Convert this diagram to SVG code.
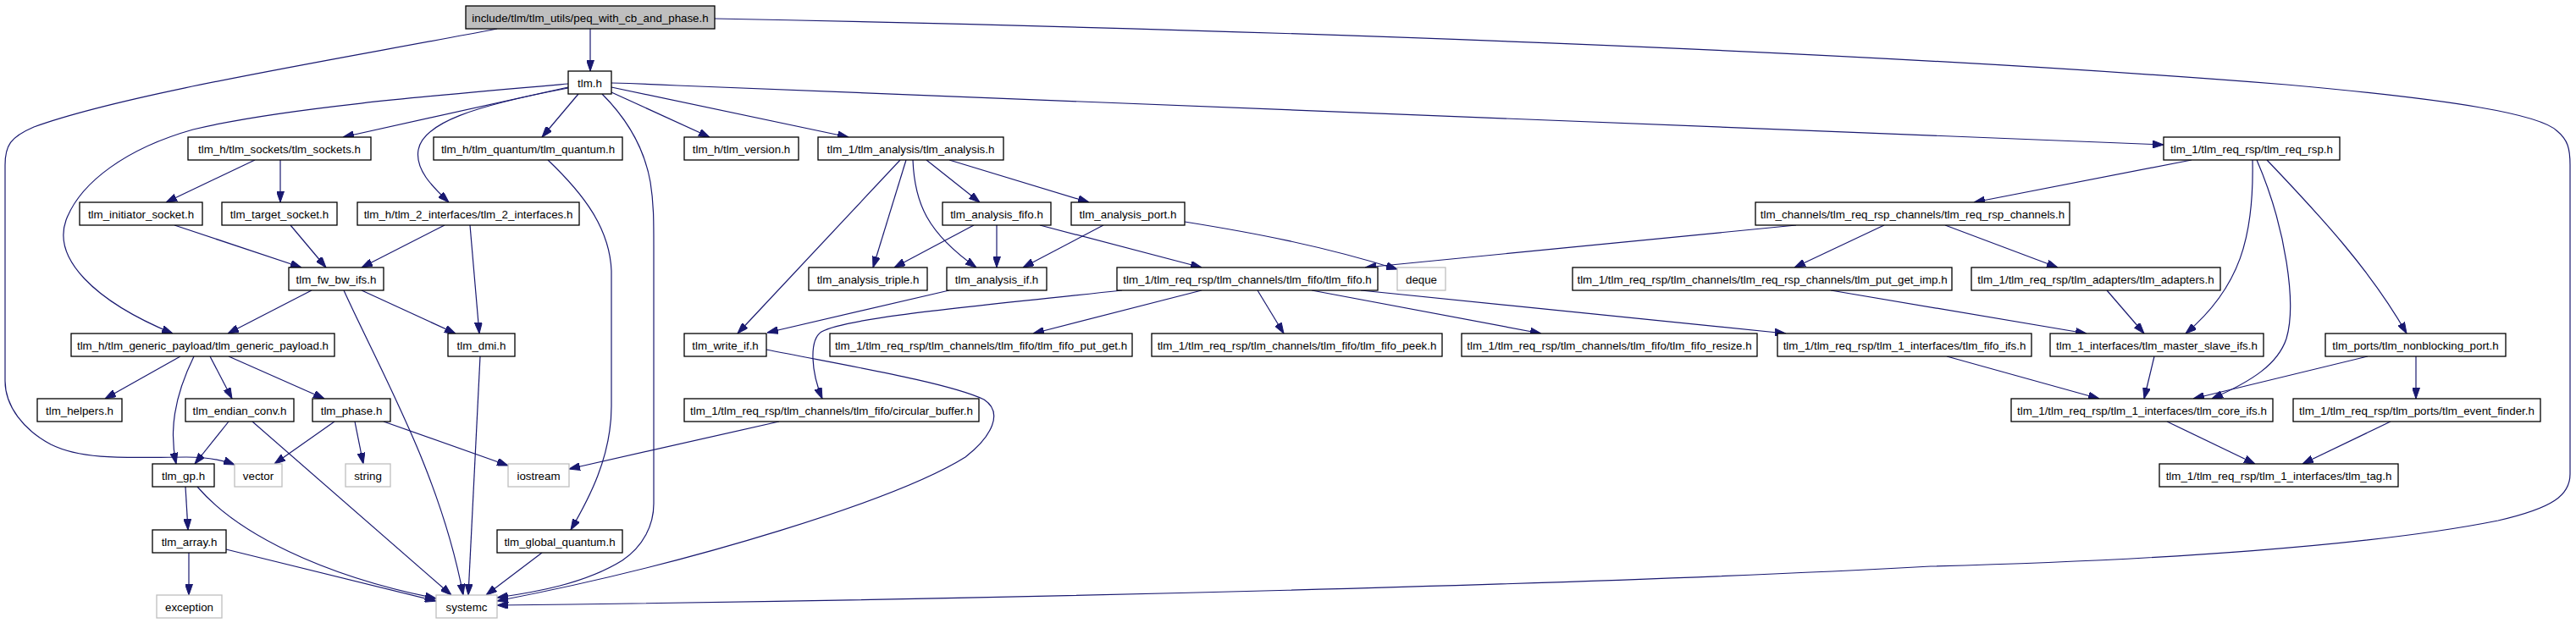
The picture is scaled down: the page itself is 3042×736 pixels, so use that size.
<svg xmlns="http://www.w3.org/2000/svg" width="3042" height="736" viewBox="0 0 3042 736">
<style>
.node rect{fill:#fff;stroke:#000;stroke-width:1.3}
.node.root rect{fill:#bfbfbf}
.node.ext rect{stroke:#bfbfbf}
.node text{font-family:"Liberation Sans",Arial,sans-serif;font-size:13.33px;text-anchor:middle;fill:#000}
.edges path{fill:none;stroke:#191970;stroke-width:1.2;marker-end:url(#ah)}
</style>
<defs>
<marker id="ah" viewBox="0 0 13 9" refX="13" refY="4.5" markerWidth="13" markerHeight="9" orient="auto" markerUnits="userSpaceOnUse"><path d="M0,0 L13,4.5 L0,9 z" fill="#191970" stroke="#191970" stroke-width="1"/></marker>
</defs>
<rect width="3042" height="736" fill="#fff"/>
<g class="edges">
<path d="M697,34 L697,84"/>
<path d="M587,34 C400,70 150,110 40,150 C12,162 6,172 6,195 L6,450 C6,480 28,508 60,525 C100,545 160,540 220,540 C245,540 262,543 277,549"/>
<path d="M844,22 C1500,35 2200,60 2700,100 C2900,118 3000,135 3020,155 C3032,165 3035,175 3035,195 L3035,560 C3035,585 3015,600 2950,615 C2800,645 2550,662 2280,669 C1900,690 1200,708 587,715"/>
<path d="M671,103 L405,162"/>
<path d="M683,111 L640,162"/>
<path d="M671,104 C560,125 500,145 494,177 C490,200 510,220 530,239"/>
<path d="M671,99 C520,112 330,128 228,153 C150,175 95,215 78,260 C62,305 110,355 204,394"/>
<path d="M711,111 C735,135 760,170 768,215 C772,240 772,260 772,290 L772,595 C772,620 760,645 735,662 C690,690 630,700 587,706"/>
<path d="M722,109 L838,162"/>
<path d="M722,103 L1002,162"/>
<path d="M722,98 Q760,99 800,101 L2555,171"/>
<path d="M1063,189 L871,394"/>
<path d="M1070,189 L1031,316"/>
<path d="M1078,189 C1080,240 1095,275 1153,316"/>
<path d="M1094,189 L1157,239"/>
<path d="M1121,189 L1286,239"/>
<path d="M1150,266 L1056,316"/>
<path d="M1177,266 L1177,316"/>
<path d="M1228,266 L1419,316"/>
<path d="M1303,266 L1208,316"/>
<path d="M1399,262 C1480,275 1560,290 1650,318"/>
<path d="M1121,343 L906,393"/>
<path d="M1325,343 C1150,362 1000,375 970,392 C955,402 958,440 971,471"/>
<path d="M1419,343 L1220,394"/>
<path d="M1485,343 L1516,394"/>
<path d="M1549,343 L1820,394"/>
<path d="M1607,343 L2109,394"/>
<path d="M2121,266 L1612,316"/>
<path d="M2225,266 L2119,316"/>
<path d="M2297,266 L2430,316"/>
<path d="M2588,189 L2331,239"/>
<path d="M2660,189 C2662,280 2645,340 2581,394"/>
<path d="M2665,189 C2700,270 2712,360 2700,400 C2690,430 2660,450 2612,471"/>
<path d="M2677,189 C2740,255 2800,320 2842,394"/>
<path d="M2162,343 L2464,394"/>
<path d="M2488,343 L2532,394"/>
<path d="M2299,421 L2479,471"/>
<path d="M2544,421 L2532,471"/>
<path d="M2796,421 L2590,471"/>
<path d="M2853,421 L2853,471"/>
<path d="M2559,498 L2663,548"/>
<path d="M2823,498 L2719,548"/>
<path d="M647,189 C690,230 720,270 722,320 L722,480 C722,540 695,590 674,626"/>
<path d="M301,189 L196,239"/>
<path d="M331,189 L331,239"/>
<path d="M206,266 L356,316"/>
<path d="M343,266 L385,316"/>
<path d="M525,266 L427,316"/>
<path d="M555,266 L566,394"/>
<path d="M368,343 L269,394"/>
<path d="M427,343 L538,394"/>
<path d="M406,343 C450,440 520,560 547,703"/>
<path d="M567,421 L553,703"/>
<path d="M213,421 L124,471"/>
<path d="M229,421 C205,470 200,510 208,548"/>
<path d="M248,421 L274,471"/>
<path d="M270,421 L383,471"/>
<path d="M270,498 L230,548"/>
<path d="M298,498 L533,703"/>
<path d="M395,498 L324,548"/>
<path d="M419,498 L429,548"/>
<path d="M453,498 L600,550"/>
<path d="M920,498 L672,554"/>
<path d="M219,575 L222,626"/>
<path d="M233,575 C280,630 380,680 515,707"/>
<path d="M267,649 L515,710"/>
<path d="M223,653 L223,703"/>
<path d="M640,653 L574,703"/>
<path d="M905,413 C1000,432 1120,452 1162,472 C1185,487 1172,515 1140,540 C1060,590 820,665 587,710"/>
</g>
<g id="n0" class="node root"><rect x="550" y="7" width="294" height="27"/><text x="697" y="25.5">include/tlm/tlm_utils/peq_with_cb_and_phase.h</text></g>
<g id="n1" class="node"><rect x="671" y="84" width="51" height="27"/><text x="696.5" y="102.5">tlm.h</text></g>
<g id="n2" class="node"><rect x="222" y="162" width="216" height="27"/><text x="330" y="180.5">tlm_h/tlm_sockets/tlm_sockets.h</text></g>
<g id="n3" class="node"><rect x="512" y="162" width="223" height="27"/><text x="623.5" y="180.5">tlm_h/tlm_quantum/tlm_quantum.h</text></g>
<g id="n4" class="node"><rect x="808" y="162" width="135" height="27"/><text x="875.5" y="180.5">tlm_h/tlm_version.h</text></g>
<g id="n5" class="node"><rect x="966" y="162" width="219" height="27"/><text x="1075.5" y="180.5">tlm_1/tlm_analysis/tlm_analysis.h</text></g>
<g id="n6" class="node"><rect x="2555" y="162" width="208" height="27"/><text x="2659" y="180.5">tlm_1/tlm_req_rsp/tlm_req_rsp.h</text></g>
<g id="n7" class="node"><rect x="94" y="239" width="145" height="27"/><text x="166.5" y="257.5">tlm_initiator_socket.h</text></g>
<g id="n8" class="node"><rect x="262" y="239" width="136" height="27"/><text x="330" y="257.5">tlm_target_socket.h</text></g>
<g id="n9" class="node"><rect x="422" y="239" width="262" height="27"/><text x="553" y="257.5">tlm_h/tlm_2_interfaces/tlm_2_interfaces.h</text></g>
<g id="n10" class="node"><rect x="1113" y="239" width="128" height="27"/><text x="1177" y="257.5">tlm_analysis_fifo.h</text></g>
<g id="n11" class="node"><rect x="1265" y="239" width="134" height="27"/><text x="1332" y="257.5">tlm_analysis_port.h</text></g>
<g id="n12" class="node"><rect x="2073" y="239" width="371" height="27"/><text x="2258.5" y="257.5">tlm_channels/tlm_req_rsp_channels/tlm_req_rsp_channels.h</text></g>
<g id="n13" class="node"><rect x="341" y="316" width="112" height="27"/><text x="397" y="334.5">tlm_fw_bw_ifs.h</text></g>
<g id="n14" class="node"><rect x="955" y="316" width="140" height="27"/><text x="1025" y="334.5">tlm_analysis_triple.h</text></g>
<g id="n15" class="node"><rect x="1118" y="316" width="118" height="27"/><text x="1177" y="334.5">tlm_analysis_if.h</text></g>
<g id="n16" class="node"><rect x="1319" y="316" width="308" height="27"/><text x="1473" y="334.5">tlm_1/tlm_req_rsp/tlm_channels/tlm_fifo/tlm_fifo.h</text></g>
<g id="n17" class="node ext"><rect x="1650" y="316" width="57" height="27"/><text x="1678.5" y="334.5">deque</text></g>
<g id="n18" class="node"><rect x="1857" y="316" width="448" height="27"/><text x="2081" y="334.5">tlm_1/tlm_req_rsp/tlm_channels/tlm_req_rsp_channels/tlm_put_get_imp.h</text></g>
<g id="n19" class="node"><rect x="2328" y="316" width="294" height="27"/><text x="2475" y="334.5">tlm_1/tlm_req_rsp/tlm_adapters/tlm_adapters.h</text></g>
<g id="n20" class="node"><rect x="84" y="394" width="311" height="27"/><text x="239.5" y="412.5">tlm_h/tlm_generic_payload/tlm_generic_payload.h</text></g>
<g id="n21" class="node"><rect x="529" y="394" width="79" height="27"/><text x="568.5" y="412.5">tlm_dmi.h</text></g>
<g id="n22" class="node"><rect x="808" y="394" width="97" height="27"/><text x="856.5" y="412.5">tlm_write_if.h</text></g>
<g id="n23" class="node"><rect x="980" y="394" width="357" height="27"/><text x="1158.5" y="412.5">tlm_1/tlm_req_rsp/tlm_channels/tlm_fifo/tlm_fifo_put_get.h</text></g>
<g id="n24" class="node"><rect x="1360" y="394" width="343" height="27"/><text x="1531.5" y="412.5">tlm_1/tlm_req_rsp/tlm_channels/tlm_fifo/tlm_fifo_peek.h</text></g>
<g id="n25" class="node"><rect x="1726" y="394" width="349" height="27"/><text x="1900.5" y="412.5">tlm_1/tlm_req_rsp/tlm_channels/tlm_fifo/tlm_fifo_resize.h</text></g>
<g id="n26" class="node"><rect x="2099" y="394" width="300" height="27"/><text x="2249" y="412.5">tlm_1/tlm_req_rsp/tlm_1_interfaces/tlm_fifo_ifs.h</text></g>
<g id="n27" class="node"><rect x="2421" y="394" width="252" height="27"/><text x="2547" y="412.5">tlm_1_interfaces/tlm_master_slave_ifs.h</text></g>
<g id="n28" class="node"><rect x="2746" y="394" width="213" height="27"/><text x="2852.5" y="412.5">tlm_ports/tlm_nonblocking_port.h</text></g>
<g id="n29" class="node"><rect x="44" y="471" width="100" height="27"/><text x="94" y="489.5">tlm_helpers.h</text></g>
<g id="n30" class="node"><rect x="219" y="471" width="128" height="27"/><text x="283" y="489.5">tlm_endian_conv.h</text></g>
<g id="n31" class="node"><rect x="369" y="471" width="92" height="27"/><text x="415" y="489.5">tlm_phase.h</text></g>
<g id="n32" class="node"><rect x="808" y="471" width="348" height="27"/><text x="982" y="489.5">tlm_1/tlm_req_rsp/tlm_channels/tlm_fifo/circular_buffer.h</text></g>
<g id="n33" class="node"><rect x="2375" y="471" width="309" height="27"/><text x="2529.5" y="489.5">tlm_1/tlm_req_rsp/tlm_1_interfaces/tlm_core_ifs.h</text></g>
<g id="n34" class="node"><rect x="2708" y="471" width="292" height="27"/><text x="2854" y="489.5">tlm_1/tlm_req_rsp/tlm_ports/tlm_event_finder.h</text></g>
<g id="n35" class="node"><rect x="180" y="548" width="73" height="27"/><text x="216.5" y="566.5">tlm_gp.h</text></g>
<g id="n36" class="node ext"><rect x="277" y="548" width="56" height="27"/><text x="305" y="566.5">vector</text></g>
<g id="n37" class="node ext"><rect x="408" y="548" width="53" height="27"/><text x="434.5" y="566.5">string</text></g>
<g id="n38" class="node ext"><rect x="600" y="548" width="72" height="27"/><text x="636" y="566.5">iostream</text></g>
<g id="n39" class="node"><rect x="2550" y="548" width="282" height="27"/><text x="2691" y="566.5">tlm_1/tlm_req_rsp/tlm_1_interfaces/tlm_tag.h</text></g>
<g id="n40" class="node"><rect x="180" y="626" width="87" height="27"/><text x="223.5" y="644.5">tlm_array.h</text></g>
<g id="n41" class="node"><rect x="587" y="626" width="148" height="27"/><text x="661" y="644.5">tlm_global_quantum.h</text></g>
<g id="n42" class="node ext"><rect x="185" y="703" width="77" height="27"/><text x="223.5" y="721.5">exception</text></g>
<g id="n43" class="node ext"><rect x="515" y="703" width="72" height="27"/><text x="551" y="721.5">systemc</text></g>
</svg>
